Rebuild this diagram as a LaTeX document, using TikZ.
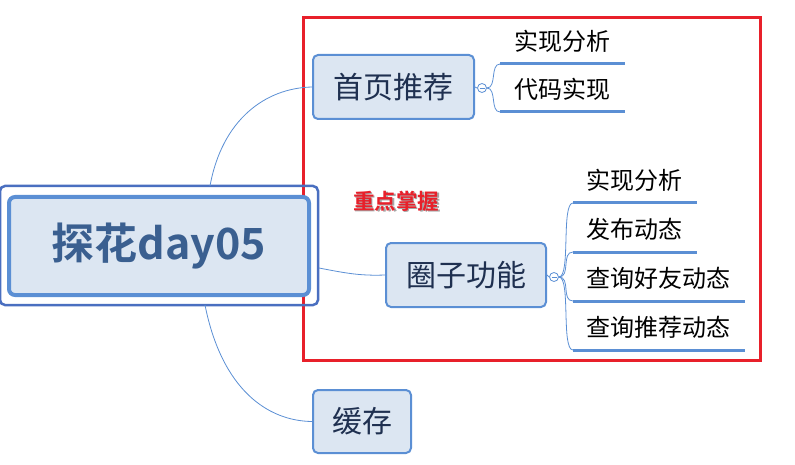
\documentclass[tikz,border=0pt]{standalone}
\usepackage{fontspec}
\setmainfont{Noto Sans CJK SC}
\newfontfamily\cjkb[BoldFont={* Bold}]{Noto Sans CJK SC}
\definecolor{bline}{HTML}{5B8FD4}
\definecolor{bfill}{HTML}{DCE6F2}
\definecolor{bout}{HTML}{4A6FC0}
\definecolor{rootc}{HTML}{3A5F90}
\definecolor{boxtxt}{HTML}{1F3050}
\definecolor{redbox}{HTML}{E8202A}
\tikzset{
  topicbox/.style={draw=bline, line width=2pt, fill=bfill, rounded corners=5pt,
    inner sep=0pt, text=boxtxt, font=\fontsize{30}{34}\selectfont},
  conn/.style={draw=bline, line width=0.8pt},
  collapse/.style={circle, draw=bline, fill=white, line width=0.8pt, minimum size=9pt, inner sep=0pt},
  leaf/.style={anchor=south west, minimum height=44pt, inner xsep=14pt, inner ysep=0pt,
    align=left, font=\fontsize{24}{27}\selectfont, text=black},
  underline/.style={draw=bline, line width=3pt},
}
\begin{document}
\begin{tikzpicture}[x=1pt,y=-1pt]
\useasboundingbox (0,0) rectangle (795,465);
% red frame
\draw[redbox, line width=3pt] (303,18) rectangle (760,360);
% root
\node[draw=bline, line width=4pt, fill=bfill, rounded corners=6pt, minimum width=300pt,
  minimum height=98pt, inner sep=0pt, text=rootc, font=\cjkb\bfseries\fontsize{43}{47}\selectfont]
  (root) at (159,246) {探花day05};
\draw[bout, line width=2.5pt, rounded corners=5pt]
  ([shift={(-7,-9)}]root.north west) rectangle ([shift={(7,8)}]root.south east);
% topics
\node[topicbox, minimum width=161pt, minimum height=64pt] (t1) at (393.5,87) {首页推荐};
\node[topicbox, minimum width=160pt, minimum height=64pt] (t2) at (466,275) {圈子功能};
\node[topicbox, minimum width=98pt, minimum height=63pt] (t3) at (362,421.5) {缓存};
% root connectors
\draw[conn] ([shift={(51,-9)}]root.north) .. controls (222,120) and (265,88) .. (t1.west);
\draw[conn] ([shift={(8,22)}]root.east) .. controls (345,273) and (360,276) .. (t2.west);
\draw[conn] ([shift={(46,8)}]root.south) .. controls (222,390) and (268,421) .. (t3.west);
% label
\node[text=black!35, font=\cjkb\bfseries\fontsize{21.5}{24}\selectfont] at (397.5,202.5) {重点掌握};
\node[text=redbox, font=\cjkb\bfseries\fontsize{21.5}{24}\selectfont] (key) at (396,201) {重点掌握};
% collapse circles
\node[collapse] (k1) at (482,88) {};
\node[collapse] (k2) at (554,277) {};
\draw[bline, line width=0.8pt] ([xshift=-2.5pt]k1.center) -- ([xshift=2.5pt]k1.center);
\draw[bline, line width=0.8pt] ([xshift=-2.5pt]k2.center) -- ([xshift=2.5pt]k2.center);
\draw[conn] (t1.east) -- (k1.west);
\draw[conn] (t2.east) -- (k2.west);
% leaves group 1
\node[leaf, text width=97pt] (a1) at (500,64) {实现分析};
\node[leaf, text width=97pt] (a2) at (500,112) {代码实现};
% leaves group 2
\node[leaf, text width=98pt, inner xsep=13pt] (b1) at (573,203) {实现分析};
\node[leaf, text width=98pt, inner xsep=13pt] (b2) at (573,252) {发布动态};
\node[leaf, text width=146pt, inner xsep=13pt] (b3) at (573,301) {查询好友动态};
\node[leaf, text width=146pt, inner xsep=13pt] (b4) at (573,350) {查询推荐动态};
\foreach \n in {a1,a2,b1,b2,b3,b4}{
  \draw[underline] (\n.south west) -- (\n.south east);
}
\foreach \n in {a1,a2}{
  \draw[conn] (k1.east) .. controls +(10,0) and +(-10,0) .. (\n.south west);
}
\foreach \n in {b1,b2,b3,b4}{
  \draw[conn] (k2.east) .. controls +(12,0) and +(-12,0) .. (\n.south west);
}
\end{tikzpicture}
\end{document}
